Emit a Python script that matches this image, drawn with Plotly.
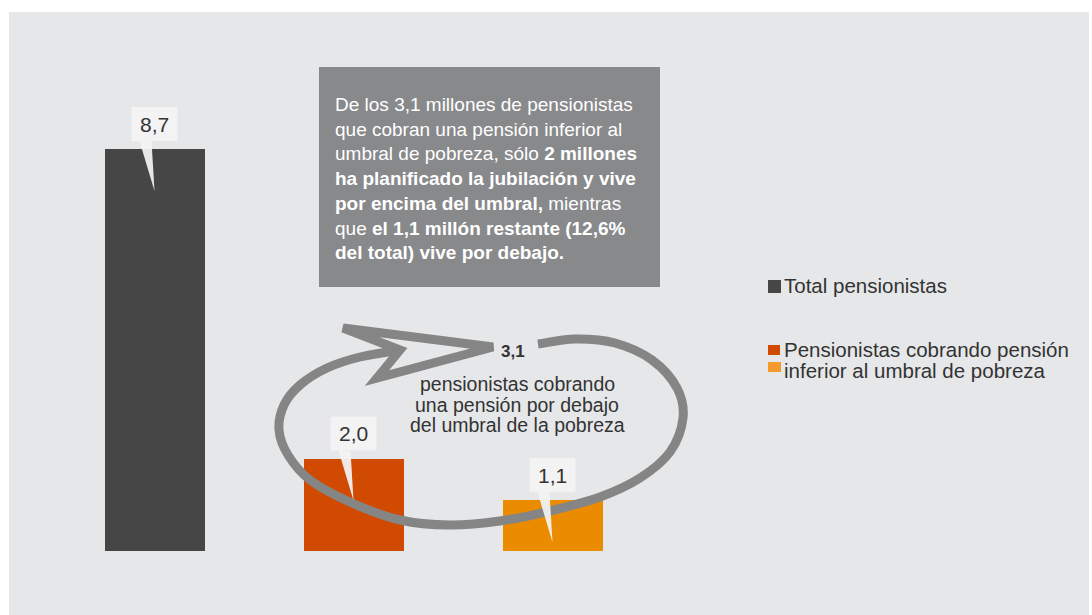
import plotly.graph_objects as go

# ---------------- data ----------------
categories = ["Total pensionistas",
              "Pensionistas cobrando pensión inferior (planificado)",
              "Pensionistas cobrando pensión inferior (no planificado)"]
values = [8.7, 2.0, 1.1]
bar_colors = ["#464646", "#d04a02", "#eb8c00"]
value_labels = [f"{v:.1f}".replace(".", ",") for v in values]

legend_labels = ["Total pensionistas", "Pensionistas cobrando pensión", "inferior al umbral de pobreza"]
legend_colors = ["#464646", "#d04a02", "#f59a2c"]

total_poor = "3,1"
callout_lines = ["pensionistas cobrando", "una pensión por debajo", "del umbral de la pobreza"]
box_text = ("De los 3,1 millones de pensionistas<br>que cobran una pensión inferior al<br>"
            "umbral de pobreza, sólo <b>2 millones</b><br><b>ha planificado la jubilación y vive</b><br>"
            "<b>por encima del umbral,</b> mientras<br>que <b>el 1,1 millón restante (12,6%</b><br>"
            "<b>del total) vive por debajo.</b>")

# ---------------- layout geometry ----------------
W, H = 1092, 615
PL, PT, PW, PH = 55, 89, 597, 462
FONT = "Liberation Sans, Arial, sans-serif"
TXT = "#333333"


def fx(px):
    return (px - PL) / PW


def fy(py):
    return (PT + PH - py) / PH


fig = go.Figure()
for i, (c, v, col) in enumerate(zip(categories, values, bar_colors)):
    fig.add_trace(go.Bar(x=[i], y=[v], name=c, marker=dict(color=col, line=dict(width=0)),
                         width=0.5025, showlegend=False, hoverinfo="skip"))

shapes = []
# grey panel background
shapes.append(dict(type="rect", xref="paper", yref="paper", x0=fx(9), x1=fx(1089), y0=fy(615), y1=fy(12),
                   fillcolor="#e6e7e9", line=dict(width=0), layer="below"))
# dark text box
shapes.append(dict(type="rect", xref="paper", yref="paper", x0=fx(319), x1=fx(660), y0=fy(287), y1=fy(67),
                   fillcolor="#88898b", line=dict(width=0)))

# looping arrow (decorative)
loop_pts = [(538, 344), (575, 339), (615, 343), (652, 360), (677, 388), (683, 418), (670, 452), (640, 478),
            (600, 497), (550, 511), (500, 521), (450, 525), (400, 520), (352, 503), (310, 480), (288, 455),
            (279, 430), (284, 405), (300, 385), (327, 368), (360, 357), (400, 350)]


def catmull(pts):
    s = f"M {fx(pts[0][0]):.5f},{fy(pts[0][1]):.5f}"
    n = len(pts)
    for i in range(n - 1):
        p0 = pts[i - 1] if i > 0 else pts[i]
        p1 = pts[i]
        p2 = pts[i + 1]
        p3 = pts[i + 2] if i + 2 < n else pts[i + 1]
        c1 = (p1[0] + (p2[0] - p0[0]) / 6, p1[1] + (p2[1] - p0[1]) / 6)
        c2 = (p2[0] - (p3[0] - p1[0]) / 6, p2[1] - (p3[1] - p1[1]) / 6)
        s += (f" C {fx(c1[0]):.5f},{fy(c1[1]):.5f} {fx(c2[0]):.5f},{fy(c2[1]):.5f}"
              f" {fx(p2[0]):.5f},{fy(p2[1]):.5f}")
    return s


ARROW = "#858585"
shapes.append(dict(type="path", xref="paper", yref="paper", path=catmull(loop_pts),
                   line=dict(color=ARROW, width=9)))
head = [(343, 328), (493, 347), (377, 378), (400, 350)]
head_path = "M " + " L ".join(f"{fx(a):.5f},{fy(b):.5f}" for a, b in head) + " Z"
shapes.append(dict(type="path", xref="paper", yref="paper", path=head_path,
                   line=dict(color=ARROW, width=9)))

# value callouts
CALL = "rgba(243,243,244,0.93)"
annotations = []
for i, (v, lab) in enumerate(zip(values, value_labels)):
    shapes.append(dict(type="rect", xref="x", yref="y", xsizemode="pixel", ysizemode="pixel",
                       xanchor=i, yanchor=v, x0=-23, x1=23, y0=8, y1=42,
                       fillcolor=CALL, line=dict(width=0)))
    shapes.append(dict(type="path", xref="x", yref="y", xsizemode="pixel", ysizemode="pixel",
                       xanchor=i, yanchor=v, path="M -15,8 L -3,8 L 0,-42 Z",
                       fillcolor=CALL, line=dict(width=0)))
    annotations.append(dict(x=i, y=v, xref="x", yref="y", text=lab, showarrow=False,
                            yshift=25, yanchor="middle", xanchor="center",
                            font=dict(family=FONT, size=21, color=TXT)))

# text box
annotations.append(dict(xref="paper", yref="paper", x=fx(333), y=fy(178), xanchor="left", yanchor="middle",
                        align="left", text=box_text, showarrow=False,
                        font=dict(family=FONT, size=19, color="white")))
# loop callout
annotations.append(dict(xref="paper", yref="paper", x=fx(513), y=fy(351), xanchor="center", yanchor="middle",
                        text=f"<b>{total_poor}</b>", showarrow=False,
                        font=dict(family=FONT, size=17, color=TXT)))
for k, line in enumerate(callout_lines):
    annotations.append(dict(xref="paper", yref="paper", x=fx(517), y=fy(384 + 20.5 * k),
                            xanchor="center", yanchor="middle", text=line, showarrow=False,
                            font=dict(family=FONT, size=19.5, color=TXT)))

# custom legend
leg_sq = [(768, 280, 781, 293), (768, 345, 780, 355), (768, 362, 781, 372)]
leg_y = [285, 349, 370]
for lab, col, sq, ly in zip(legend_labels, legend_colors, leg_sq, leg_y):
    shapes.append(dict(type="rect", xref="paper", yref="paper", x0=fx(sq[0]), x1=fx(sq[2]),
                       y0=fy(sq[3]), y1=fy(sq[1]), fillcolor=col, line=dict(width=0)))
    annotations.append(dict(xref="paper", yref="paper", x=fx(782), y=fy(ly), xanchor="left",
                            yanchor="middle", text=lab, showarrow=False,
                            font=dict(family=FONT, size=20.5, color=TXT)))

fig.update_layout(
    width=W, height=H,
    margin=dict(l=PL, r=W - PL - PW, t=PT, b=H - PT - PH, autoexpand=False),
    paper_bgcolor="white", plot_bgcolor="rgba(0,0,0,0)",
    xaxis=dict(range=[-0.5, 2.5], visible=False, fixedrange=True),
    yaxis=dict(range=[0, 10], visible=False, fixedrange=True),
    shapes=shapes, annotations=annotations, showlegend=False,
    bargap=0, font=dict(family=FONT),
)

fig.write_html("out.html")
